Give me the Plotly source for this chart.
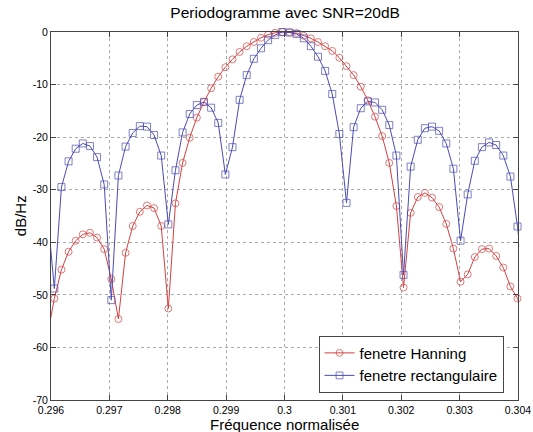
import plotly.graph_objects as go

# normalised frequency samples (n/8191)
freq = [0.295935, 0.296057, 0.296179, 0.296301, 0.296423, 0.296545, 0.296667,
        0.296789, 0.296911, 0.297033, 0.297155, 0.297278, 0.297400, 0.297522,
        0.297644, 0.297766, 0.297888, 0.298010, 0.298132, 0.298254, 0.298376,
        0.298498, 0.298621, 0.298743, 0.298865, 0.298987, 0.299109, 0.299231,
        0.299353, 0.299475, 0.299597, 0.299719, 0.299841, 0.299963, 0.300085,
        0.300208, 0.300330, 0.300452, 0.300574, 0.300696, 0.300818, 0.300940,
        0.301062, 0.301184, 0.301306, 0.301428, 0.301550, 0.301673, 0.301795,
        0.301917, 0.302039, 0.302161, 0.302283, 0.302405, 0.302527, 0.302649,
        0.302771, 0.302893, 0.303016, 0.303138, 0.303260, 0.303382, 0.303504,
        0.303626, 0.303748, 0.303870, 0.303992, 0.304114]

hanning_db = [-58.0, -50.7, -45.2, -41.8, -39.7, -38.5, -38.2, -39.1, -41.3, -47.0,
              -54.6, -42.0, -36.9, -34.2, -33.0, -33.5, -36.9, -52.6, -32.6, -24.9,
              -20.1, -16.3, -13.3, -10.7, -8.5, -6.7, -5.2, -3.8, -2.7, -1.9,
              -1.1, -0.5, -0.15, 0.0, -0.05, -0.2, -0.7, -1.2, -1.9, -2.7,
              -3.6, -4.9, -6.5, -8.2, -10.4, -13.0, -16.1, -19.8, -24.9, -33.1,
              -48.6, -34.4, -31.4, -30.6, -31.5, -33.3, -36.5, -41.2, -47.5, -46.1,
              -42.8, -41.3, -41.2, -42.6, -44.8, -48.4, -50.7, -55.0]

rect_db = [-34.0, -48.8, -29.5, -24.6, -22.2, -21.2, -21.7, -23.8, -29.0, -51.0,
           -27.3, -21.8, -19.2, -17.9, -18.0, -19.6, -23.5, -36.6, -26.3, -19.1,
           -15.6, -13.9, -13.3, -14.4, -17.3, -27.1, -21.9, -12.9, -8.2, -5.1,
           -3.1, -1.55, -0.55, 0.0, -0.1, -0.4, -1.2, -2.7, -4.7, -7.4,
           -11.8, -19.4, -32.5, -18.1, -14.5, -13.2, -13.4, -14.8, -17.7, -23.5,
           -46.2, -25.6, -20.5, -18.3, -18.0, -18.8, -21.2, -26.0, -39.7, -30.9,
           -24.5, -21.9, -21.0, -21.5, -23.5, -27.5, -37.0, -50.0]

x_ticks = [0.296, 0.297, 0.298, 0.299, 0.3, 0.301, 0.302, 0.303, 0.304]
x_ticktext = ["0.296", "0.297", "0.298", "0.299", "0.3", "0.301", "0.302", "0.303", "0.304"]
y_ticks = [-70, -60, -50, -40, -30, -20, -10, 0]
y_ticktext = ["-70", "-60", "-50", "-40", "-30", "-20", "-10", "0"]

title_text = "Periodogramme avec SNR=20dB"
x_title = "Fréquence normalisée"
y_title = "dB/Hz"
names = ["fenetre Hanning", "fenetre rectangulaire"]

RED = "rgb(210,65,65)"
BLUE = "rgb(75,75,180)"
FONT = "Arial, Liberation Sans, sans-serif"

sizes = [0 if (f < 0.296 or f > 0.304) else 7 for f in freq]

fig = go.Figure()
fig.add_trace(go.Scatter(
    x=freq, y=hanning_db, name=names[0], mode="lines+markers",
    line=dict(color=RED, width=1),
    marker=dict(symbol="circle-open", size=sizes, color=RED, line=dict(width=1)),
    cliponaxis=False))
fig.add_trace(go.Scatter(
    x=freq, y=rect_db, name=names[1], mode="lines+markers",
    line=dict(color=BLUE, width=1),
    marker=dict(symbol="square-open", size=sizes, color=BLUE, line=dict(width=1)),
    cliponaxis=False))

axis_common = dict(
    showline=True, linecolor="#444", linewidth=1, mirror="ticks",
    ticks="inside", ticklen=5, tickcolor="#444",
    showgrid=True, gridcolor="#aaa", griddash="dot", gridwidth=1,
    zeroline=False, tickfont=dict(size=10.5, color="black", family=FONT),
    automargin=False,
)

fig.update_layout(
    width=533, height=432,
    margin=dict(l=51, r=15, t=32, b=32),
    paper_bgcolor="white", plot_bgcolor="white",
    font=dict(family=FONT, color="black"),
    title=dict(text=title_text, x=0.535, xanchor="center", y=0.972, yanchor="middle",
               yref="container", font=dict(size=15.5, color="black", family=FONT)),
    xaxis=dict(range=[0.296, 0.304], tickvals=x_ticks, ticktext=x_ticktext,
               ticklabelstandoff=0, **axis_common),
    yaxis=dict(range=[-70, 0], tickvals=y_ticks, ticktext=y_ticktext,
               **axis_common),
    legend=dict(x=0.969, xanchor="right", y=0.02, yanchor="bottom",
                bgcolor="white", bordercolor="#444", borderwidth=1,
                font=dict(size=15, color="black", family=FONT),
                tracegroupgap=0),
    showlegend=True,
    annotations=[
        dict(text=x_title, xref="paper", yref="paper", x=0.5, y=-0.0665,
             xanchor="center", yanchor="middle", showarrow=False,
             font=dict(size=15, color="black", family=FONT)),
        dict(text=y_title, xref="paper", yref="paper", x=-0.066, y=0.5,
             xanchor="center", yanchor="middle", textangle=-90, showarrow=False,
             font=dict(size=15, color="black", family=FONT)),
    ],
)

fig.write_html("out.html")
